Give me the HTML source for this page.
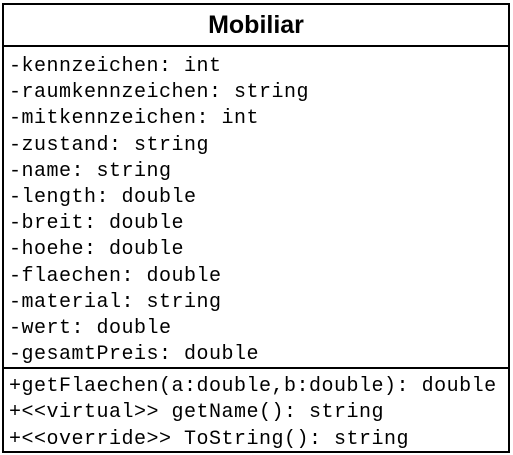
<!DOCTYPE html>
<html><head><style>
body{margin:0;width:513px;height:455px;background:#fff;position:relative;overflow:hidden}
.box{position:absolute;left:2px;top:3px;width:504px;height:446px;border:2px solid #000}
.t{position:absolute;left:0;width:100%;top:0;height:40px;border-bottom:2px solid #000;text-align:center;font:bold 25px "Liberation Sans",sans-serif;line-height:40px}
.r{position:absolute;left:5px;font:20px "Liberation Mono",monospace;letter-spacing:0.5px;white-space:pre;line-height:20px;color:#000}
.d{position:absolute;left:0;width:100%;top:362px;border-top:2px solid #000}
</style></head><body>
<div class="box">
<div class="t">Mobiliar</div>
<div class="r" style="top:52px">-kennzeichen: int</div>
<div class="r" style="top:78px">-raumkennzeichen: string</div>
<div class="r" style="top:104px">-mitkennzeichen: int</div>
<div class="r" style="top:131px">-zustand: string</div>
<div class="r" style="top:157px">-name: string</div>
<div class="r" style="top:183px">-length: double</div>
<div class="r" style="top:209px">-breit: double</div>
<div class="r" style="top:235px">-hoehe: double</div>
<div class="r" style="top:262px">-flaechen: double</div>
<div class="r" style="top:288px">-material: string</div>
<div class="r" style="top:314px">-wert: double</div>
<div class="r" style="top:340px">-gesamtPreis: double</div>
<div class="d"></div>
<div class="r" style="top:372px">+getFlaechen(a:double,b:double): double</div>
<div class="r" style="top:398px">+&lt;&lt;virtual&gt;&gt; getName(): string</div>
<div class="r" style="top:425px">+&lt;&lt;override&gt;&gt; ToString(): string</div>
</div>
</body></html>
